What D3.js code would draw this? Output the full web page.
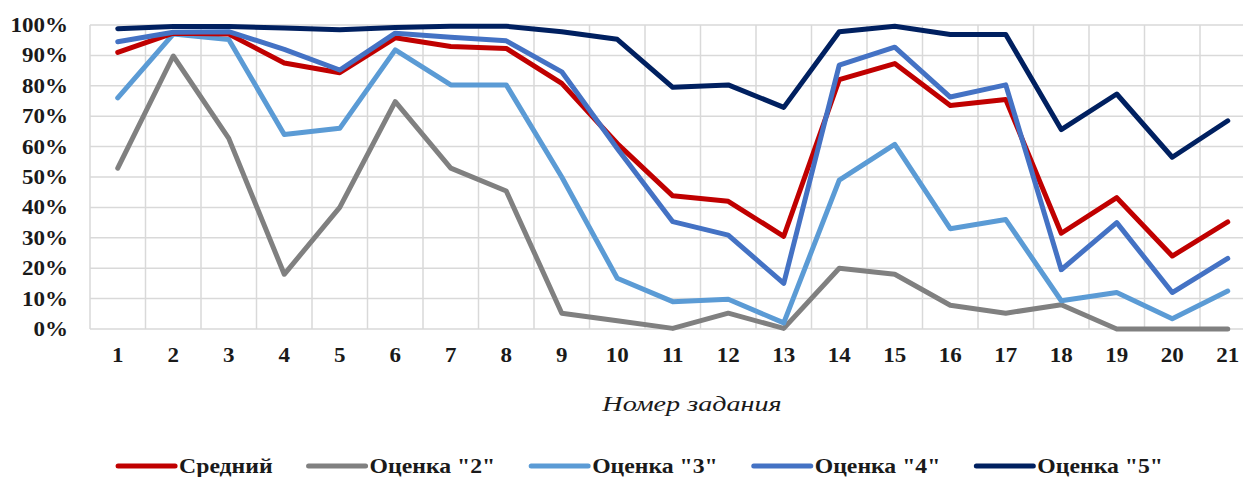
<!DOCTYPE html>
<html>
<head>
<meta charset="utf-8">
<script src="https://cdn.jsdelivr.net/npm/d3@7"></script>
<style>
  body { margin: 0; background: #fff; }
</style>
</head>
<body>
<div id="chart"></div>
<script>
// Task numbers on the x axis
const tasks = d3.range(1, 22).map(String);

// Percent of correct answers per group
const avgValues   = [91, 97.3, 97, 87.5, 84.3, 95.8, 92.9, 92.3, 80.8, 61, 43.8, 42, 30.5, 82, 87.3, 73.5, 75.5, 31.5, 43.2, 24, 35.2];
const grade2Values = [52.9, 89.8, 62.7, 18, 40, 74.8, 52.9, 45.4, 5.2, 2.7, 0.2, 5.2, 0.2, 20, 18, 7.8, 5.2, 8, 0, 0, 0];
const grade3Values = [76, 97, 95.2, 64, 66, 91.8, 80.3, 80.3, 50, 16.7, 9, 9.8, 2, 49, 60.7, 33, 36, 9.3, 12, 3.4, 12.5];
const grade4Values = [94.5, 97.6, 97.8, 92, 85.2, 97.3, 96, 94.8, 84.6, 59.4, 35.3, 30.9, 15, 86.8, 92.7, 76.3, 80.3, 19.5, 35, 12, 23.2];
const grade5Values = [98.8, 99.5, 99.5, 99, 98.4, 99.2, 99.6, 99.6, 97.8, 95.3, 79.5, 80.3, 72.9, 97.8, 99.6, 96.9, 96.9, 65.6, 77.3, 56.5, 68.5];

const yTicks = d3.range(0, 101, 10);
const axisTitle = 'Номер задания';

const seriesNames  = ['Средний', 'Оценка "2"', 'Оценка "3"', 'Оценка "4"', 'Оценка "5"'];
const seriesColors = ['#c00000', '#808080', '#5b9bd5', '#4472c4', '#002060'];
const series = [avgValues, grade2Values, grade3Values, grade4Values, grade5Values];
// draw order: gray at the back, navy on top
const drawOrder = [1, 2, 0, 3, 4];

const width = 1243, height = 477;
const font = "'Liberation Serif', 'Times New Roman', serif";

const svg = d3.select('#chart').append('svg')
  .attr('width', width)
  .attr('height', height)
  .style('font-family', font);

const x = d3.scaleBand()
  .domain(tasks)
  .range([90, 90 + 21 * 55.5]);

const y = d3.scaleLinear()
  .domain([0, 100])
  .range([329, 25]);

// gridlines
svg.append('g')
  .selectAll('line')
  .data(yTicks)
  .enter().append('line')
  .attr('x1', x.range()[0])
  .attr('x2', x.range()[1])
  .attr('y1', d => y(d))
  .attr('y2', d => y(d))
  .attr('stroke', '#d9d9d9')
  .attr('stroke-width', 1.5);

svg.append('g')
  .selectAll('line')
  .data(tasks.concat(['end']))
  .enter().append('line')
  .attr('x1', (d, i) => x.range()[0] + i * x.bandwidth())
  .attr('x2', (d, i) => x.range()[0] + i * x.bandwidth())
  .attr('y1', y(0))
  .attr('y2', y(100))
  .attr('stroke', '#d9d9d9')
  .attr('stroke-width', 1.5);

// y labels
svg.append('g')
  .selectAll('text')
  .data(yTicks)
  .enter().append('text')
  .attr('transform', d => 'translate(68,' + (y(d) + 7) + ') scale(1.15,1)')
  .attr('text-anchor', 'end')
  .attr('font-family', font)
  .attr('font-size', 20)
  .attr('font-weight', 'bold')
  .attr('fill', '#1a1a1a')
  .text(d => d + '%');

// x labels
svg.append('g')
  .selectAll('text')
  .data(tasks)
  .enter().append('text')
  .attr('transform', d => 'translate(' + (x(d) + x.bandwidth() / 2) + ',362) scale(1.15,1)')
  .attr('text-anchor', 'middle')
  .attr('font-family', font)
  .attr('font-size', 20)
  .attr('font-weight', 'bold')
  .attr('fill', '#1a1a1a')
  .text(d => d);

// axis title
svg.append('text')
  .attr('transform', 'translate(692,411) scale(1.28,1)')
  .attr('text-anchor', 'middle')
  .attr('font-family', font)
  .attr('font-size', 22)
  .attr('font-style', 'italic')
  .attr('fill', '#1a1a1a')
  .text(axisTitle);

// lines
const line = d3.line()
  .x((d, i) => x(tasks[i]) + x.bandwidth() / 2)
  .y(d => y(d));

svg.append('g')
  .selectAll('path')
  .data(drawOrder)
  .enter().append('path')
  .attr('d', i => line(series[i]))
  .attr('fill', 'none')
  .attr('stroke', i => seriesColors[i])
  .attr('stroke-width', 5)
  .attr('stroke-linejoin', 'round')
  .attr('stroke-linecap', 'round');

// legend
const legend = svg.append('g');
let lx = 0;
seriesNames.forEach((name, i) => {
  const item = legend.append('g').attr('transform', 'translate(' + lx + ',0)');
  item.append('line')
    .attr('x1', 0).attr('x2', 57)
    .attr('y1', 466).attr('y2', 466)
    .attr('stroke', seriesColors[i])
    .attr('stroke-width', 5)
    .attr('stroke-linecap', 'round');
  const t = item.append('text')
    .attr('transform', 'translate(61,473) scale(1.13,1)')
    .attr('font-family', font)
    .attr('font-size', 21)
    .attr('font-weight', 'bold')
    .attr('fill', '#1a1a1a')
    .text(name);
  lx += 61 + t.node().getComputedTextLength() * 1.13 + 36;
});
const legendWidth = lx - 36;
legend.attr('transform', 'translate(' + (640.5 - legendWidth / 2) + ',0)');
</script>
</body>
</html>
